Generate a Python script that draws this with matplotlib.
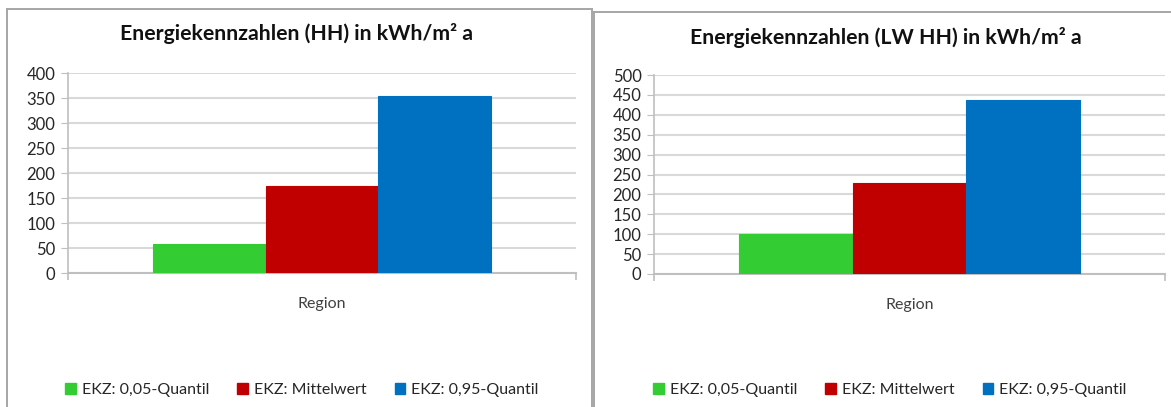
import matplotlib
matplotlib.use('Agg')
from matplotlib import pyplot as plt
from matplotlib.patches import Patch
from matplotlib.lines import Line2D

plt.rcParams['font.family'] = ['Lato', 'DejaVu Sans']

# data
series = ['EKZ: 0,05-Quantil', 'EKZ: Mittelwert', 'EKZ: 0,95-Quantil']
colors = ['#33CC33', '#C00000', '#0070C0']
category = ['Region']
hh_values = [58, 175, 354]
lw_hh_values = [101, 229, 437]
titles = ['Energiekennzahlen (HH) in kWh/m² a', 'Energiekennzahlen (LW HH) in kWh/m² a']

W, H = 1171, 407
fig = plt.figure(figsize=(W / 100, H / 100), dpi=100)


def px_axes(x0, y0, x1, y1):
    # pixel box (top-left origin) -> figure axes
    return fig.add_axes([x0 / W, 1 - y1 / H, (x1 - x0) / W, (y1 - y0) / H])


def draw_panel(ax, values, ymax, title, title_xy, legend_x):
    bw = 2 / 9
    for i, (v, c, lab) in enumerate(zip(values, colors, series)):
        ax.bar(0 + (i - 1) * bw, v, width=bw, color=c, edgecolor=c, linewidth=0.8, zorder=3, label=lab)
    ax.set_xlim(-0.5, 0.5)
    ax.set_ylim(0, ymax)
    ax.set_yticks(range(0, ymax + 1, 50))
    ax.yaxis.grid(True, color='#d9d9d9', linewidth=1.5, zorder=0)
    ax.set_axisbelow(True)
    for s in ['top', 'right']:
        ax.spines[s].set_visible(False)
    ax.spines['left'].set_color('#bfbfbf')
    ax.spines['bottom'].set_color('#bfbfbf')
    ax.spines['left'].set_linewidth(1.2)
    ax.spines['bottom'].set_linewidth(1.5)
    ax.tick_params(axis='y', length=5, color='#bfbfbf', labelsize=12, labelcolor='#262626', pad=4)
    ax.set_xticks([0])
    ax.set_xticklabels(category)
    ax.set_xticks([-0.5, 0.5], minor=True)
    ax.tick_params(axis='x', which='major', length=0, labelsize=11.5, labelcolor='#404040', pad=17)
    ax.tick_params(axis='x', which='minor', length=5, color='#bfbfbf', width=1.2)
    fig.text(title_xy[0] / W, 1 - title_xy[1] / H, title, ha='center', va='center',
             fontsize=15.3, fontweight='bold', color='#111111')
    handles = [Patch(facecolor=c, edgecolor=c) for c in colors]
    fig.legend(handles, series, loc='center', bbox_to_anchor=(legend_x / W, 1 - 390 / H),
               ncol=3, frameon=False, fontsize=11.5, handlelength=0.65, handleheight=0.65,
               handletextpad=0.4, columnspacing=1.75, labelcolor='#262626')


ax1 = px_axes(68, 73.3, 576, 273.3)
draw_panel(ax1, hh_values, 400, titles[0], (296, 34), 302)

ax2 = px_axes(654, 75, 1165, 274)
draw_panel(ax2, lw_hh_values, 500, titles[1], (886, 38), 890)

# panel frames
frame = dict(color='#a6a6a6', linewidth=1.4, transform=fig.transFigure)
fig.lines.append(Line2D([7 / W, 7 / W], [0, 1 - 9 / H], **frame))
fig.lines.append(Line2D([7 / W, 592 / W], [1 - 9 / H, 1 - 9 / H], **frame))
fig.lines.append(Line2D([592 / W, 592 / W], [0, 1 - 9 / H], **frame))
fig.lines.append(Line2D([594 / W, 594 / W], [0, 1 - 12 / H], **frame))
fig.lines.append(Line2D([594 / W, 1], [1 - 12 / H, 1 - 12 / H], **frame))

fig.savefig('out.png', dpi=100)
